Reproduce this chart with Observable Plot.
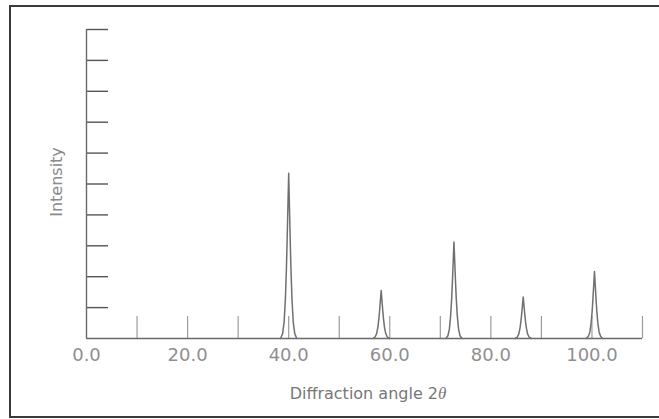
<!DOCTYPE html>
<html>
<head>
<meta charset="utf-8">
<script src="https://cdn.jsdelivr.net/npm/d3@7"></script>
<script src="https://cdn.jsdelivr.net/npm/@observablehq/plot@0.6"></script>
<style>
  html, body { margin: 0; padding: 0; background: #fff; overflow: hidden; }
  #wrap { position: relative; width: 659px; height: 419px; }
  #border { position: absolute; left: 9px; top: 5px; width: 700px; height: 409px;
            border: 2px solid #3a3a3a; pointer-events: none; box-sizing: content-box; }
</style>
</head>
<body>
<div id="wrap"><div id="border"></div></div>
<script>
// Peak centres (2θ, degrees)
const peakCenters = [40.0, 58.3, 72.7, 86.4, 100.5];
// Offsets (degrees) from each centre at which the profile is sampled
const profileOffsets = [-1.6, -1.2, -0.9, -0.65, -0.45, -0.3, -0.15, 0, 0.15, 0.3, 0.45, 0.65, 0.9, 1.2, 1.6];
// Intensity of each peak at those offsets (y units, axis 0–10)
const peak1 = [0, 0.16, 0.54, 1.28, 2.25, 3.21, 4.28, 5.35, 4.28, 3.21, 2.25, 1.28, 0.54, 0.16, 0];
const peak2 = [0, 0.05, 0.16, 0.37, 0.65, 0.93, 1.24, 1.55, 1.24, 0.93, 0.65, 0.37, 0.16, 0.05, 0];
const peak3 = [0, 0.09, 0.31, 0.75, 1.31, 1.87, 2.50, 3.12, 2.50, 1.87, 1.31, 0.75, 0.31, 0.09, 0];
const peak4 = [0, 0.04, 0.13, 0.32, 0.56, 0.80, 1.07, 1.34, 1.07, 0.80, 0.56, 0.32, 0.13, 0.04, 0];
const peak5 = [0, 0.07, 0.22, 0.52, 0.91, 1.30, 1.74, 2.17, 1.74, 1.30, 0.91, 0.52, 0.22, 0.07, 0];
const peakIntensities = [peak1, peak2, peak3, peak4, peak5];

// Axis ticks and labels
const xDomain = [0, 110];
const yDomain = [0, 10];
const xTickMarks = [10, 20, 30, 40, 50, 60, 70, 80, 90, 100, 110];
const xTickLabels = [0, 20, 40, 60, 80, 100];
const yTickMarks = [1, 2, 3, 4, 5, 6, 7, 8, 9, 10];
const xTitle = "Diffraction angle 2";
const xTitleSymbol = "θ";
const yTitle = "Intensity";

// Build the line table from the arrays above
const table = [];
peakCenters.forEach((c, i) => {
  profileOffsets.forEach((o, j) => {
    table.push({peak: i, angle: c + o, intensity: peakIntensities[i][j]});
  });
});

const W = 659, H = 419;
const mL = 86, mR = 17, mT = 29, mB = 81;
const plotW = W - mL - mR, plotH = H - mT - mB;
const font = "DejaVu Sans, sans-serif";

const chart = Plot.plot({
  width: W, height: H,
  marginLeft: mL, marginRight: mR, marginTop: mT, marginBottom: mB,
  x: {domain: xDomain, axis: null},
  y: {domain: yDomain, axis: null},
  style: {fontFamily: font, background: "transparent", overflow: "visible"},
  marks: [
    // x tick marks pointing upward from the axis
    Plot.tickX(xTickMarks, {x: d => d, insetTop: plotH - 22, stroke: "#9c9c9c", strokeWidth: 1.2}),
    // y tick marks pointing right from the axis
    Plot.tickY(yTickMarks, {y: d => d, insetRight: plotW - 22, stroke: "#555", strokeWidth: 1.4}),
    // axis lines
    Plot.ruleX([0], {stroke: "#6a6a6a", strokeWidth: 1.4}),
    Plot.ruleY([0], {stroke: "#6a6a6a", strokeWidth: 1.4}),
    // diffraction peaks
    Plot.line(table, {x: "angle", y: "intensity", z: "peak", stroke: "#707070", strokeWidth: 1.5, curve: "linear"}),
    // x tick labels
    Plot.axisX({ticks: xTickLabels, tickSize: 0, tickPadding: 10, tickFormat: d => d.toFixed(1), label: null,
                fontSize: 18, fill: "#8f8f8f", fontFamily: font}),
    // y title
    Plot.text([yTitle], {text: d => d, frameAnchor: "left", textAnchor: "middle", dx: -30, dy: -2, rotate: -90,
                fontSize: 16, fill: "#8a8a8a", fontFamily: font})
  ]
});

document.getElementById("wrap").insertBefore(chart, document.getElementById("border"));

// x title with italic theta
const svg = d3.select(chart);
const t = svg.append("text")
  .attr("x", 368).attr("y", 399)
  .attr("text-anchor", "middle")
  .attr("font-family", font)
  .attr("font-size", 16)
  .attr("fill", "#777");
t.append("tspan").text(xTitle);
t.append("tspan").attr("font-family", "Liberation Serif, serif").attr("font-style", "italic").attr("font-size", 17).text(xTitleSymbol);
</script>
</body>
</html>
